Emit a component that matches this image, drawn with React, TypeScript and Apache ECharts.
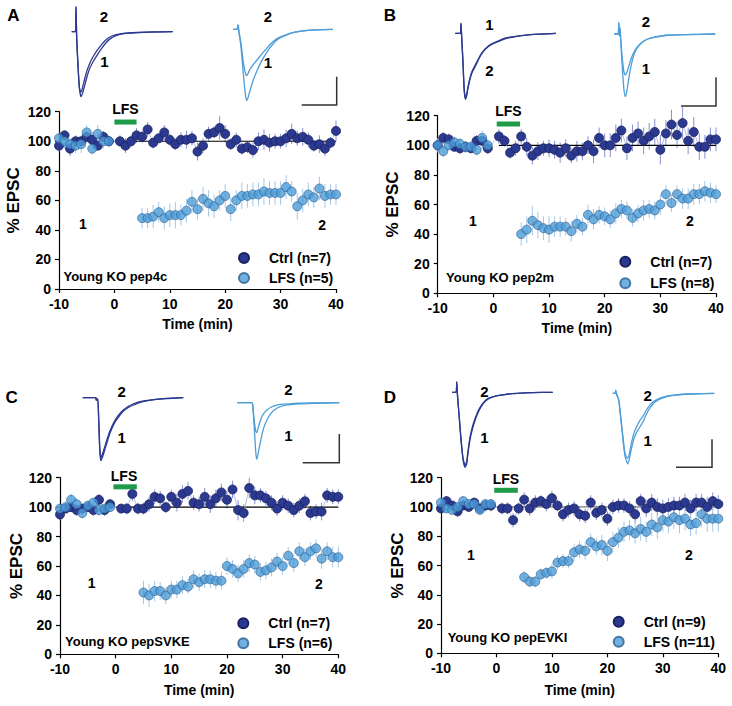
import React, { useEffect, useRef } from 'react';
import * as echarts from 'echarts';

const FONT = '"Liberation Sans", Arial, Helvetica, sans-serif';
const DARK = '#2b3990';
const DARK_EDGE = '#19215e';
const LIGHT = '#4d9dd8';
const LIGHT_EDGE = '#2a5c90';
const DARK_ERR = '#8591d4';
const LIGHT_ERR = '#a3c8ea';
// legend marker: a circle centred in a wider (40 x 10) box, leaving space before the text
const LEGEND_ICON = 'path://M0,5L0,5M40,5L40,5M15,5A5,5 0 1,1 25,5A5,5 0 1,1 15,5Z';

// time points (min)
const ctrlTime = [-10, -9, -8, -7, -6, -5, -4, -3, -2, -1,
  1, 2, 3, 4, 5, 6, 7, 8, 9, 10, 11, 12, 13, 14, 15, 16, 17, 18, 19, 20,
  21, 22, 23, 24, 25, 26, 27, 28, 29, 30, 31, 32, 33, 34, 35, 36, 37, 38, 39, 40];
const lfsTime = [-10, -9, -8, -7, -6, -5, -4, -3, -2, -1,
  5, 6, 7, 8, 9, 10, 11, 12, 13, 14, 15, 16, 17, 18, 19, 20,
  21, 22, 23, 24, 25, 26, 27, 28, 29, 30, 31, 32, 33, 34, 35, 36, 37, 38, 39, 40];

const xTicks = [-10, 0, 10, 20, 30, 40];
const yTicks = [0, 20, 40, 60, 80, 100, 120];

// Panel A
const ctrlA = [97, 104, 95, 100, 100, 103, 101, 97, 103, 100,
  100, 97, 100, 104, 103, 108, 99, 102, 106, 101,
  98, 101, 101, 102, 93, 97, 105, 106, 109, 105,
  98, 101, 95, 96, 94, 100, 101, 99, 100, 100,
  102, 105, 102, 103, 101, 97, 98, 95, 99, 107];
const lfsA = [102, 100, 98, 97, 98, 106, 95, 105, 100, 100,
  48, 48, 49, 52, 48, 50, 50, 50, 53, 59,
  54, 61, 58, 56, 60, 63, 54, 60, 63, 63,
  64, 64, 66, 65, 65, 65, 69, 66, 56, 60,
  64, 62, 68, 63, 64, 64];
const semCtrlA = [4, 3, 5, 4, 3, 4, 5, 3, 4, 3,
  4, 5, 4, 5, 4, 5, 4, 3, 5, 4, 4, 5, 6, 5, 6, 5, 5, 4, 8, 6,
  4, 5, 4, 4, 5, 6, 7, 6, 5, 5, 6, 7, 5, 6, 5, 4, 6, 5, 4, 7];
const semLfsA = [4, 5, 4, 5, 6, 5, 4, 6, 5, 4,
  7, 7, 8, 7, 8, 8, 9, 7, 8, 8, 7, 8, 9, 8, 7, 8, 8, 7, 9, 8,
  8, 8, 9, 8, 8, 8, 8, 7, 9, 8, 8, 7, 8, 8, 7, 7];

// Panel B
const ctrlB = [100, 105, 104, 99, 98, 99, 98, 103, 103, 98,
  106, 103, 95, 98, 106, 99, 93, 96, 98, 98,
  97, 95, 98, 93, 96, 96, 100, 96, 105, 100,
  100, 105, 110, 98, 105, 108, 103, 106, 109, 97,
  108, 114, 107, 115, 103, 109, 99, 99, 104, 104];
const lfsB = [100, 96, 100, 102, 101, 99, 99, 97, 105, 100,
  40, 43, 49, 46, 44, 43, 45, 45, 45, 42,
  47, 45, 53, 50, 53, 52, 50, 54, 57, 56,
  51, 54, 56, 57, 56, 60, 67, 61, 67, 64,
  64, 67, 67, 69, 68, 67];
const semCtrlB = [5, 4, 4, 3, 4, 4, 3, 4, 5, 4,
  5, 4, 4, 5, 5, 6, 6, 6, 5, 6, 6, 7, 6, 5, 7, 6, 6, 8, 7, 8,
  8, 9, 8, 8, 9, 8, 9, 9, 9, 10, 9, 10, 9, 11, 9, 10, 9, 8, 8, 8];
const semLfsB = [4, 4, 3, 4, 4, 3, 4, 4, 5, 4,
  8, 9, 10, 9, 8, 9, 7, 7, 6, 7, 6, 6, 7, 7, 6, 6, 6, 7, 6, 6,
  6, 6, 7, 6, 6, 7, 6, 6, 6, 7, 7, 7, 7, 7, 7, 6];

// Panel C
const ctrlC = [95, 99, 100, 98, 99, 100, 98, 105, 98, 102,
  99, 99, 109, 99, 99, 102, 107, 106, 100, 107,
  103, 109, 111, 103, 102, 107, 102, 106, 110, 105,
  112, 98, 96, 113, 108, 108, 106, 103, 99, 103,
  101, 98, 101, 104, 96, 97, 97, 108, 107, 107];
const lfsC = [99, 100, 105, 102, 96, 101, 103, 98, 99, 100,
  42, 40, 43, 43, 40, 44, 44, 47, 46, 51,
  49, 51, 51, 50, 50, 60, 58, 55, 58, 62,
  61, 56, 57, 59, 63, 60, 67, 62, 70, 66,
  70, 72, 65, 70, 66, 66];
const semCtrlC = [4, 3, 3, 4, 3, 3, 4, 4, 4, 3,
  3, 4, 5, 4, 4, 5, 5, 5, 4, 5, 6, 6, 6, 5, 5, 6, 6, 6, 6, 6,
  6, 7, 6, 7, 6, 5, 5, 5, 5, 5, 5, 5, 5, 5, 5, 5, 6, 5, 5, 5];
const semLfsC = [3, 4, 4, 4, 4, 3, 3, 4, 3, 3,
  8, 8, 7, 6, 6, 6, 6, 6, 5, 6, 6, 6, 6, 6, 6, 6, 6, 6, 6, 6,
  6, 6, 6, 6, 6, 6, 6, 6, 6, 6, 6, 6, 7, 6, 7, 7];

// Panel D
const ctrlD = [99, 104, 101, 97, 101, 100, 103, 99, 101, 101,
  99, 99, 91, 99, 105, 99, 103, 104, 102, 106,
  101, 95, 98, 99, 95, 94, 103, 96, 98, 92,
  100, 101, 101, 99, 95, 104, 99, 103, 100, 99,
  100, 101, 101, 103, 99, 103, 103, 100, 104, 102];
const lfsD = [103, 99, 98, 100, 104, 102, 102, 98, 102, 102,
  52, 49, 49, 54, 55, 56, 62, 63, 63, 69,
  71, 70, 76, 73, 74, 70, 76, 79, 83, 84,
  82, 85, 83, 88, 86, 91, 90, 93, 91, 92,
  88, 89, 95, 92, 92, 92];
const semCtrlD = [3, 3, 3, 4, 3, 3, 3, 3, 4, 4,
  4, 4, 5, 4, 5, 5, 5, 4, 5, 5, 4, 5, 5, 5, 5, 5, 5, 5, 5, 5,
  5, 5, 5, 5, 6, 5, 6, 6, 6, 6, 6, 6, 6, 6, 6, 6, 6, 7, 6, 6];
const semLfsD = [3, 3, 3, 3, 3, 3, 3, 3, 3, 3,
  4, 4, 4, 4, 4, 5, 5, 5, 5, 6, 6, 6, 6, 6, 7, 7, 7, 7, 7, 7,
  7, 8, 7, 8, 8, 8, 8, 8, 9, 8, 8, 8, 9, 9, 9, 9];

// Example EPSC traces: [time (% of sweep), amplitude (% of largest peak)]
const trA_c1 = [[0, 0], [3.6, 0], [4.3, 38], [4.9, -8], [6, -45], [7.5, -85], [9.2, -100], [10.5, -96], [12.5, -85], [15, -70], [18, -56], [22, -44], [26, -34], [30, -25], [34, -17], [38, -11], [44, -6], [52, -3], [65, -1.5], [80, -0.5], [100, 0]];
const trA_c2 = [[0, 0], [3.6, 0], [4.3, 38], [4.9, -8], [6, -45], [7.5, -84], [8.8, -93], [10, -90], [12, -78], [14.5, -63], [17.5, -50], [21, -39], [25, -29], [29, -21], [33, -14], [37, -9], [43, -5], [51, -2.5], [65, -1.2], [80, -0.4], [100, 0]];
const trA_l1 = [[0, 0], [4, 0], [5, 6], [5.8, -2], [8, -25], [10.5, -65], [12.5, -92], [13.7, -100], [15, -96], [17, -86], [20, -72], [24, -58], [28, -46], [33, -34], [38, -24], [44, -15], [52, -9], [62, -4], [75, -1.5], [100, 0]];
const trA_l2 = [[0, 0], [4, 0], [5, 6], [5.8, -2], [8, -20], [10.5, -48], [12.5, -62], [13.5, -65], [15, -62], [17, -56], [20, -50], [24, -43], [28, -36], [33, -28], [38, -20], [44, -13], [52, -8], [62, -4], [75, -1.5], [100, 0]];

const trB_c1 = [[0, 0], [5, 0], [5.7, 15], [6.3, -5], [7.5, -40], [8.8, -85], [10, -100], [11.2, -95], [13, -80], [16, -62], [20.5, -48], [25, -34], [30, -24], [36, -17], [43.5, -12], [50, -8], [60, -5], [75, -2], [100, 0]];
const trB_c2 = [[0, 0], [5, 0], [5.7, 15], [6.3, -5], [7.5, -40], [8.8, -84], [10, -98], [11.2, -93], [13, -78], [16, -60], [20.5, -46], [25, -33], [30, -23], [36, -16], [43.5, -11], [50, -7], [60, -4.5], [75, -2], [100, 0]];
const trB_l1 = [[0, 0], [3.8, 0], [4.4, 18], [5, -3], [5.6, 10], [6.5, -15], [8, -55], [9.5, -88], [10.9, -100], [12, -94], [13.5, -80], [15.5, -60], [18.5, -38], [22, -24], [27, -14], [33, -8], [40, -5], [52, -2], [70, -1], [100, 0]];
const trB_l2 = [[0, 0], [3.8, 0], [4.4, 18], [5, -3], [5.6, 10], [6.5, -12], [8, -40], [9.5, -60], [10.9, -65], [12, -63], [13.5, -56], [15.5, -45], [18.5, -32], [22, -22], [27, -14], [33, -8], [40, -5], [52, -2], [70, -1], [100, 0]];

const trC_c1 = [[0, 0], [13, 0], [13.5, -4], [14.2, -3], [15, -2], [16, -40], [17, -85], [18, -100], [19.5, -95], [21.5, -85], [24, -72], [27, -57], [31, -42], [35, -32], [40, -22], [45, -16], [50, -12], [58, -7], [68, -4], [80, -2], [100, 0]];
const trC_c2 = [[0, 0], [13, 0], [13.5, -4], [14.2, -3], [15, -2], [16, -38], [17, -80], [18, -95], [19.5, -90], [21.5, -80], [24, -67], [27, -53], [31, -39], [35, -29], [40, -20], [45, -14], [50, -10], [58, -6], [68, -3.5], [80, -1.5], [100, 0]];
const trC_l1 = [[0, 0], [14, 0], [15, -3], [16.5, -40], [18, -85], [19, -100], [20, -94], [21.5, -80], [23.5, -62], [26, -44], [29, -31], [33, -19], [37, -12], [42, -7], [50, -4], [60, -2], [75, -1], [100, 0]];
const trC_l2 = [[0, 0], [14, 0], [15, -3], [16.5, -30], [18, -50], [19, -53], [20, -48], [21.5, -38], [23.5, -27], [26, -19], [29, -13], [33, -8], [37, -5], [42, -3], [50, -2], [60, -1], [75, -0.5], [100, 0]];

const trD_c1 = [[0, 0], [4, 0], [4.7, 14], [5.5, -5], [7, -30], [9, -65], [11, -90], [13, -100], [14.5, -96], [16, -80], [18, -62], [20.5, -48], [23.5, -35], [27, -24], [31, -15], [36, -9], [43, -5], [52, -3], [65, -1.5], [80, -0.5], [100, 0]];
const trD_c2 = [[0, 0], [4, 0], [4.7, 14], [5.5, -5], [7, -30], [9, -63], [11, -88], [13, -97], [14.5, -93], [16, -77], [18, -59], [20.5, -45], [23.5, -33], [27, -22], [31, -14], [36, -8], [43, -5], [52, -3], [65, -1.5], [80, -0.5], [100, 0]];
const trD_l1 = [[0, 0], [2.5, 0], [3, 4], [3.5, 0], [6, -10], [9, -50], [12, -88], [14.8, -100], [16.5, -92], [18.5, -78], [21, -64], [24, -54], [27, -47], [30, -40], [33, -30], [37, -20], [42, -12], [50, -6], [60, -3], [75, -1], [100, 0]];
const trD_l2 = [[0, 0], [2.5, 0], [3, 4], [3.5, 0], [6, -10], [9, -48], [12, -84], [14.5, -92], [16.5, -85], [18.5, -70], [21, -56], [24, -46], [27, -38], [30, -32], [33, -24], [37, -16], [42, -10], [50, -5], [60, -2.5], [75, -1], [100, 0]];

// ---------- layout ----------
const panels = [
  {
    letter: 'A', ctrl: ctrlA, lfs: lfsA, semC: semCtrlA, semL: semLfsA,
    ctrlName: 'Ctrl (n=7)', lfsName: 'LFS (n=5)', tag: 'Young KO pep4c',
    grid: { left: 59, top: 111.7, width: 277, height: 177.3 },
    yNameGap: 37, xNameGap: 28, base: [0, 40], baseColor: '#000',
    lfsBar: [0, 4, 113], lfsText: [2, 121.5], one: [-5.7, 43.8], two: [37.5, 43.3], tagPos: [-9.2, 8.4],
    legend: { left: 223, top: 250, gap: 4 },
    letterPos: [13.3, 15],
    traces: [
      { box: { left: 71.7, top: 31.7, width: 101, height: 65 }, lines: [trA_c1, trA_c2], color: DARK, l2: [104, 16], l1: [104.3, 61.7] },
      { box: { left: 233, top: 29.3, width: 100, height: 71.4 }, lines: [trA_l1, trA_l2], color: LIGHT, l2: [268, 16], l1: [268, 62] },
    ],
    scale: [[301.7, 105], [336.7, 105], [336.7, 76.7]],
  },
  {
    letter: 'B', ctrl: ctrlB, lfs: lfsB, semC: semCtrlB, semL: semLfsB,
    ctrlName: 'Ctrl (n=7)', lfsName: 'LFS (n=8)', tag: 'Young KO pep2m',
    grid: { left: 437.7, top: 115.7, width: 278.3, height: 177.6 },
    yNameGap: 37, xNameGap: 28, base: [1, 40], baseColor: '#000',
    lfsBar: [0.6, 4.8, 114.4], lfsText: [2.7, 123.4], one: [-3.7, 48.9], two: [35.3, 48.9], tagPos: [-8.5, 10.6],
    legend: { left: 604.3, top: 253.7, gap: 5.6 },
    letterPos: [390, 15],
    traces: [
      { box: { left: 455.3, top: 33.3, width: 100.7, height: 66 }, lines: [trB_c1, trB_c2], color: DARK, l2: [489.3, 70], l1: [489.3, 24] },
      { box: { left: 614.3, top: 34, width: 101, height: 62.7 }, lines: [trB_l1, trB_l2], color: LIGHT, l2: [646, 21.7], l1: [646, 68.3] },
    ],
    scale: [[681, 106], [716, 106], [716, 77.3]],
  },
  {
    letter: 'C', ctrl: ctrlC, lfs: lfsC, semC: semCtrlC, semL: semLfsC,
    ctrlName: 'Ctrl (n=7)', lfsName: 'LFS (n=6)', tag: 'Young KO pepSVKE',
    grid: { left: 60, top: 477.7, width: 278.3, height: 176.6 },
    yNameGap: 33, xNameGap: 29, base: [0, 40], baseColor: '#000',
    lfsBar: [-0.4, 3.8, 113.8], lfsText: [1.5, 121.3], one: [-4.3, 48.2], two: [36.5, 47.5], tagPos: [-9.1, 8.6],
    legend: { left: 222.3, top: 615.3, gap: 4 },
    letterPos: [11.7, 397.3],
    traces: [
      { box: { left: 82.7, top: 397.7, width: 100.6, height: 63 }, lines: [trC_c1, trC_c2], color: DARK, l2: [121.7, 391.7], l1: [121.7, 437.3] },
      { box: { left: 237.3, top: 402.7, width: 102, height: 56.6 }, lines: [trC_l1, trC_l2], color: LIGHT, l2: [288.3, 389.3], l1: [288.3, 435] },
    ],
    scale: [[302.7, 462.7], [339.3, 462.7], [339.3, 434]],
  },
  {
    letter: 'D', ctrl: ctrlD, lfs: lfsD, semC: semCtrlD, semL: semLfsD,
    ctrlName: 'Ctrl (n=9)', lfsName: 'LFS (n=11)', tag: 'Young KO pepEVKI',
    grid: { left: 441, top: 477.7, width: 277.3, height: 175.6 },
    yNameGap: 35, xNameGap: 30, base: [0, 40], baseColor: '#777',
    lfsBar: [-0.4, 3.85, 111.4], lfsText: [1.7, 119], one: [-4.6, 67.2], two: [34.7, 67.2], tagPos: [-8.8, 10.7],
    legend: { left: 597.7, top: 613.7, gap: 4 },
    letterPos: [390, 397.3],
    traces: [
      { box: { left: 452, top: 392.3, width: 100.7, height: 75 }, lines: [trD_c1, trD_c2], color: DARK, l2: [484.3, 391.7], l1: [484.3, 437.3] },
      { box: { left: 612.7, top: 393.3, width: 101.6, height: 70.7 }, lines: [trD_l1, trD_l2], color: LIGHT, l2: [647.7, 395], l1: [647.7, 440] },
    ],
    scale: [[676, 467.3], [712, 467.3], [712, 439.3]],
  },
];

function errorSeries(name: string, times: number[], vals: number[], sem: number[], idx: number, color: string) {
  return {
    type: 'custom', name, xAxisIndex: idx, yAxisIndex: idx, z: 1, silent: true,
    encode: { x: 0, y: [1, 2] },
    data: times.map((t, j) => [t, vals[j] - sem[j], vals[j] + sem[j]]),
    renderItem: (params: any, api: any) => {
      const x = api.value(0);
      const a = api.coord([x, api.value(1)]);
      const b = api.coord([x, api.value(2)]);
      return { type: 'line', shape: { x1: a[0], y1: a[1], x2: b[0], y2: b[1] }, style: { stroke: color, lineWidth: 1 } };
    },
  };
}

function textPoint(name: string, idx: number, pos: number[], text: string, align: 'center' | 'left', size: number, weight: string) {
  return {
    type: 'scatter', name, xAxisIndex: idx, yAxisIndex: idx, symbolSize: 0, clip: false, silent: true, z: 6,
    data: [pos],
    itemStyle: { color: '#000', opacity: 1 },
    label: {
      show: true, position: align === 'left' ? 'right' : 'inside', distance: 0,
      formatter: text, color: '#000', fontSize: size, fontWeight: weight, fontFamily: FONT,
      textBorderWidth: 0, textBorderColor: 'transparent', opacity: 1,
    },
  };
}

function buildOption() {
  const grids: any[] = [];
  const xAxes: any[] = [];
  const yAxes: any[] = [];
  const series: any[] = [];
  const legends: any[] = [];
  const graphics: any[] = [];

  // main plot grids: indices 0..3
  panels.forEach((p, i) => {
    grids.push({ ...p.grid, containLabel: false });
    xAxes.push({
      gridIndex: i, type: 'value', min: xTicks[0], max: xTicks[xTicks.length - 1], interval: xTicks[1] - xTicks[0],
      name: 'Time (min)', nameLocation: 'middle', nameGap: p.xNameGap,
      nameTextStyle: { fontSize: 14, fontWeight: 'bold', color: '#000', fontFamily: FONT },
      axisLine: { onZero: false, lineStyle: { color: '#000', width: 1.2 } },
      axisTick: { show: true, length: 4, lineStyle: { color: '#000', width: 1.2 } },
      axisLabel: { fontSize: 14, fontWeight: 'bold', color: '#000', margin: 8, fontFamily: FONT },
      splitLine: { show: false },
    });
    yAxes.push({
      gridIndex: i, type: 'value', min: yTicks[0], max: yTicks[yTicks.length - 1], interval: yTicks[1] - yTicks[0],
      name: '% EPSC', nameLocation: 'middle', nameGap: p.yNameGap,
      nameTextStyle: { fontSize: 17, fontWeight: 'bold', color: '#000', fontFamily: FONT },
      axisLine: { show: true, onZero: false, lineStyle: { color: '#000', width: 1.2 } },
      axisTick: { show: true, length: 4, lineStyle: { color: '#000', width: 1.2 } },
      axisLabel: { fontSize: 14, fontWeight: 'bold', color: '#000', margin: 8, fontFamily: FONT },
      splitLine: { show: false },
    });

    series.push(errorSeries('errC' + i, ctrlTime, p.ctrl, p.semC, i, DARK_ERR));
    series.push(errorSeries('errL' + i, lfsTime, p.lfs, p.semL, i, LIGHT_ERR));
    series.push({
      type: 'line', name: 'base' + i, xAxisIndex: i, yAxisIndex: i, z: 2, silent: true,
      data: [[p.base[0], 100], [p.base[1], 100]], showSymbol: false,
      lineStyle: { color: p.baseColor, width: 1.2 },
    });
    series.push({
      type: 'line', name: p.ctrlName, xAxisIndex: i, yAxisIndex: i, z: 3,
      data: ctrlTime.map((t, j) => [t, p.ctrl[j]]),
      symbol: 'circle', symbolSize: 9, showSymbol: true, showAllSymbol: true,
      lineStyle: { color: '#a3abe0', width: 0.8 },
      itemStyle: { color: DARK, borderColor: DARK_EDGE, borderWidth: 0.8 },
    });
    series.push({
      type: 'scatter', name: p.lfsName, xAxisIndex: i, yAxisIndex: i, z: 4,
      data: lfsTime.map((t, j) => [t, p.lfs[j]]),
      symbol: 'circle', symbolSize: 9,
      itemStyle: { color: LIGHT, borderColor: LIGHT_EDGE, borderWidth: 0.8 },
    });
    series.push({
      type: 'line', name: 'lfsbar' + i, xAxisIndex: i, yAxisIndex: i, z: 5, silent: true, clip: false,
      data: [[p.lfsBar[0], p.lfsBar[2]], [p.lfsBar[1], p.lfsBar[2]]], showSymbol: false,
      lineStyle: { color: '#1e9a48', width: 5, cap: 'butt' },
    });
    series.push(textPoint('lfsText' + i, i, p.lfsText, 'LFS', 'center', 14, 'bold'));
    series.push(textPoint('one' + i, i, p.one, '1', 'center', 14, 'bold'));
    series.push(textPoint('two' + i, i, p.two, '2', 'center', 14, 'bold'));
    series.push(textPoint('tag' + i, i, p.tagPos, p.tag, 'left', 13, 'bold'));

    legends.push({
      data: [p.ctrlName, p.lfsName], orient: 'vertical', left: p.legend.left, top: p.legend.top,
      itemWidth: 40, itemHeight: 10, itemGap: p.legend.gap, icon: LEGEND_ICON, padding: 0, selectedMode: false,
      textStyle: { fontSize: 14, fontWeight: 'bold', color: '#000', fontFamily: FONT, lineHeight: 16 },
    });

    graphics.push({
      type: 'text', x: p.letterPos[0], y: p.letterPos[1],
      style: { text: p.letter, fontSize: 17, fontWeight: 'bold', fill: '#000', fontFamily: FONT, align: 'center', verticalAlign: 'middle' },
    });
    graphics.push({
      type: 'polyline', shape: { points: p.scale }, style: { stroke: '#333', lineWidth: 1.5, fill: 'none' },
    });
  });

  // trace grids: indices 4..11
  panels.forEach((p, i) => {
    p.traces.forEach((tr, k) => {
      const gi = 4 + i * 2 + k;
      grids.push({ ...tr.box, containLabel: false });
      xAxes.push({ gridIndex: gi, type: 'value', min: 0, max: 100, show: false });
      yAxes.push({ gridIndex: gi, type: 'value', min: -100, max: 0, show: false });
      tr.lines.forEach((ln, m) => {
        series.push({
          type: 'line', name: 'trace' + i + '_' + k + '_' + m, xAxisIndex: gi, yAxisIndex: gi,
          data: ln, showSymbol: false, clip: false, silent: true, smooth: 0.2,
          lineStyle: { color: tr.color, width: 1.3 },
        });
      });
      graphics.push({
        type: 'text', x: tr.l2[0], y: tr.l2[1],
        style: { text: '2', fontSize: 15, fontWeight: 'bold', fill: '#000', fontFamily: FONT, align: 'center', verticalAlign: 'middle' },
      });
      graphics.push({
        type: 'text', x: tr.l1[0], y: tr.l1[1],
        style: { text: '1', fontSize: 15, fontWeight: 'bold', fill: '#000', fontFamily: FONT, align: 'center', verticalAlign: 'middle' },
      });
    });
  });

  return {
    animation: false,
    backgroundColor: '#fff',
    textStyle: { fontFamily: FONT },
    grid: grids,
    xAxis: xAxes,
    yAxis: yAxes,
    legend: legends,
    series,
    graphic: graphics,
  };
}

export default function App() {
  const ref = useRef<HTMLDivElement>(null);
  useEffect(() => {
    if (!ref.current) return;
    const chart = echarts.init(ref.current, null, { renderer: 'svg' });
    chart.setOption(buildOption() as any);
    return () => chart.dispose();
  }, []);
  return <div ref={ref} style={{ position: 'absolute', left: 0, top: 0, width: 732, height: 706 }} />;
}
